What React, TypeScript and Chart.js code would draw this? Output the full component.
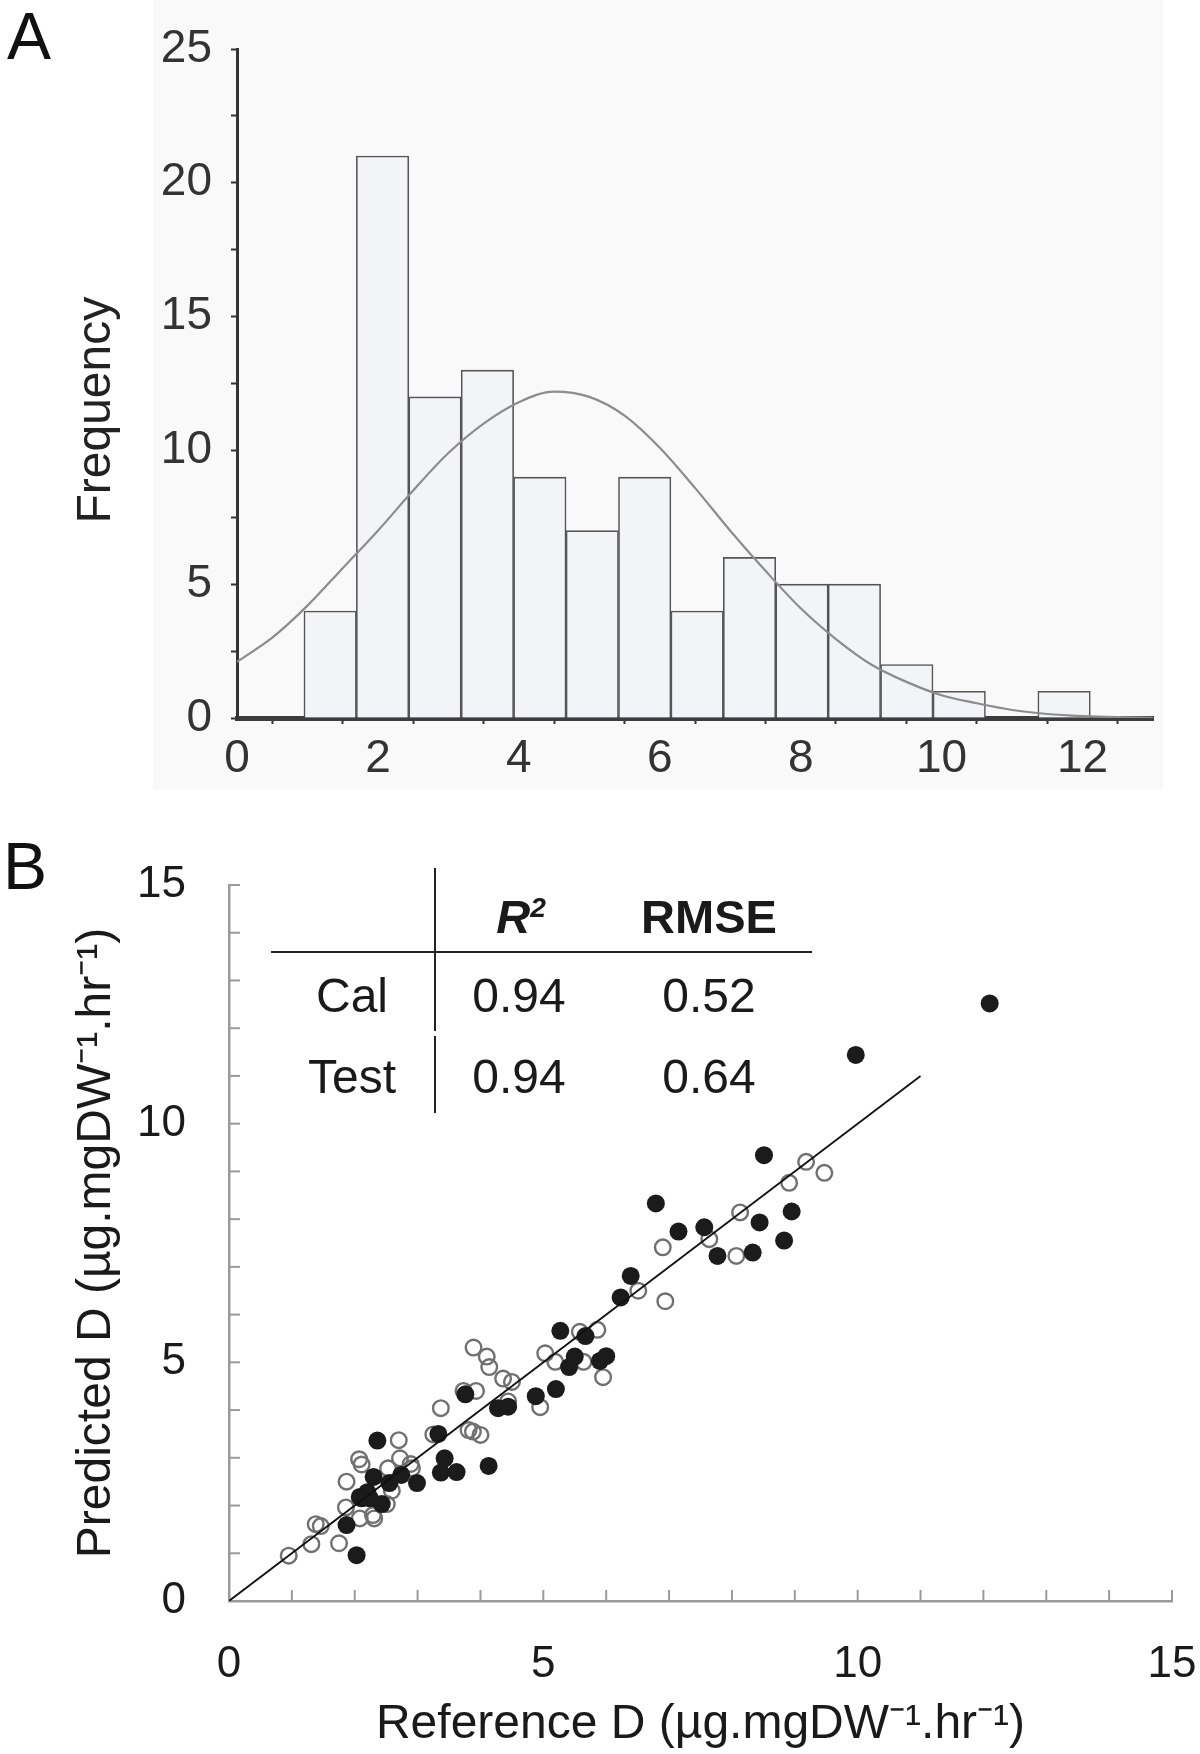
import React, { useEffect, useRef } from 'react';
import { Chart, registerables } from 'chart.js';

Chart.register(...registerables);

const FONT = '"Liberation Sans", Arial, Helvetica, sans-serif';

// ---------- Panel A: histogram ----------
const binEdges = [0.95, 1.694, 2.438, 3.182, 3.926, 4.67, 5.414, 6.158, 6.902, 7.646, 8.39, 9.134, 9.878, 10.622, 11.366, 12.11];
const binCounts = [4, 21, 12, 13, 9, 7, 9, 4, 6, 5, 5, 2, 1, 0, 1];
const curveX = [0, 0.5, 1, 1.5, 2, 2.5, 3, 3.5, 4, 4.5, 5, 5.5, 6, 6.5, 7, 7.5, 8, 8.5, 9, 9.5, 10, 10.5, 11, 11.5, 12, 12.5, 13];
const curveY = [2.1, 3.0, 4.2, 5.6, 7.0, 8.5, 9.9, 11.0, 11.8, 12.2, 12.0, 11.3, 10.1, 8.6, 7.0, 5.5, 4.1, 2.95, 2.0, 1.35, 0.85, 0.55, 0.3, 0.15, 0.07, 0.03, 0.01];

// ---------- Panel B: predicted vs reference ----------
const filledRef = [2.03, 1.87, 2.36, 2.11, 2.24, 2.30, 2.43, 2.55, 2.74, 2.99, 3.33, 3.43, 3.37, 3.62, 4.13, 3.76, 4.28, 4.44, 4.88, 5.20, 5.27, 5.67, 5.50, 5.41, 5.90, 6.00, 6.23, 6.39, 6.79, 7.15, 7.56, 7.77, 8.33, 8.44, 8.95, 8.83, 8.51, 9.97, 12.10, 2.08, 2.20];
const filledPred = [0.96, 1.59, 3.36, 2.15, 2.15, 2.60, 2.03, 2.47, 2.64, 2.47, 3.50, 2.99, 2.69, 2.70, 2.83, 4.33, 4.04, 4.07, 4.29, 4.44, 5.66, 5.55, 5.12, 4.90, 5.03, 5.13, 6.36, 6.81, 8.33, 7.74, 7.83, 7.23, 7.30, 7.93, 8.16, 7.55, 9.34, 11.44, 12.52, 2.18, 2.28];
const openRef = [0.95, 1.31, 1.38, 1.46, 1.75, 1.86, 1.87, 2.08, 2.07, 2.11, 2.29, 2.31, 2.51, 2.59, 2.53, 2.70, 2.72, 2.89, 2.91, 3.25, 3.37, 3.73, 3.81, 3.89, 3.93, 3.88, 4.00, 4.10, 4.14, 4.36, 4.50, 4.44, 4.95, 5.03, 5.19, 5.58, 5.64, 5.86, 5.95, 6.51, 6.94, 6.90, 7.64, 8.07, 8.13, 8.91, 9.18, 9.47];
const openPred = [0.95, 1.19, 1.61, 1.57, 1.21, 1.96, 2.50, 1.73, 2.97, 2.86, 1.80, 1.73, 2.03, 2.31, 2.78, 3.37, 2.99, 2.87, 2.78, 3.49, 4.04, 4.40, 3.58, 5.31, 4.40, 3.55, 3.48, 5.12, 4.90, 4.66, 4.59, 4.18, 4.06, 5.19, 5.01, 5.64, 5.01, 5.68, 4.69, 6.50, 6.28, 7.41, 7.58, 7.23, 8.14, 8.76, 9.20, 8.97];
const fitLineX = [0, 11];
const fitLineY = [0, 11];

// ---------- inset table ----------
const tableRows = ['Cal', 'Test'];
const r2Values = ['0.94', '0.94'];
const rmseValues = ['0.52', '0.64'];

const panelBg = {
  id: 'panelBg',
  beforeDraw(chart: any) {
    const ctx = chart.ctx;
    ctx.save();
    ctx.fillStyle = '#f9f9f9';
    ctx.fillRect(153, 0, 1010, 790);
    ctx.restore();
  },
};

const inwardTicks = {
  id: 'inwardTicks',
  beforeDatasetsDraw(chart: any) {
    const { ctx } = chart;
    const x = chart.scales.x;
    const y = chart.scales.y;
    ctx.save();
    ctx.strokeStyle = '#9a9a9a';
    ctx.lineWidth = 2;
    for (let v = 1; v <= 15; v++) {
      const px = x.getPixelForValue(v);
      ctx.beginPath();
      ctx.moveTo(px, y.bottom);
      ctx.lineTo(px, y.bottom - 11);
      ctx.stroke();
      const py = y.getPixelForValue(v);
      ctx.beginPath();
      ctx.moveTo(x.left, py);
      ctx.lineTo(x.left + 11, py);
      ctx.stroke();
    }
    ctx.restore();
  },
};

function abs(cx: number, cy: number, size: number, extra: any = {}): any {
  return {
    position: 'absolute',
    left: cx,
    top: cy,
    transform: 'translate(-50%, -50%)',
    fontSize: size,
    lineHeight: 1,
    whiteSpace: 'nowrap',
    color: '#1a1a1a',
    ...extra,
  };
}

export default function App() {
  const refA = useRef<HTMLCanvasElement>(null);
  const refB = useRef<HTMLCanvasElement>(null);

  useEffect(() => {
    const chartA = new Chart(refA.current as HTMLCanvasElement, {
      type: 'bar',
      data: {
        datasets: [
          {
            type: 'line',
            data: curveX.map((x, i) => ({ x, y: curveY[i] })),
            borderColor: '#8c8c8c',
            borderWidth: 2.2,
            pointRadius: 0,
            tension: 0.4,
            cubicInterpolationMode: 'monotone',
            fill: false,
            order: 0,
          } as any,
          {
            type: 'bar',
            data: binCounts.map((c, i) => ({ x: (binEdges[i] + binEdges[i + 1]) / 2, y: c })),
            backgroundColor: '#f3f4f8',
            borderColor: '#555555',
            borderWidth: 1.6,
            barPercentage: 1,
            categoryPercentage: 1,
            order: 1,
          } as any,
        ],
      },
      options: {
        animation: false,
        responsive: false,
        layout: { padding: { top: 49, right: 47, left: 0, bottom: 0 } },
        plugins: { legend: { display: false }, tooltip: { enabled: false } },
        scales: {
          x: {
            type: 'linear',
            min: 0,
            max: 13,
            offset: false,
            grid: { display: true, drawOnChartArea: false, drawTicks: true, tickLength: 6, tickWidth: 2, tickColor: '#333' },
            border: { display: true, color: '#3c3c3c', width: 5 },
            ticks: {
              stepSize: 1,
              autoSkip: false,
              maxRotation: 0,
              padding: 8,
              color: '#333',
              font: { family: FONT, size: 46 },
              callback: (v: any) => (Number(v) % 2 === 0 ? String(v) : ''),
            },
            afterFit: (s: any) => {
              s.height = 72;
            },
          } as any,
          y: {
            min: 0,
            max: 25,
            grid: { display: true, drawOnChartArea: false, drawTicks: true, tickLength: 6, tickWidth: 2, tickColor: '#333' },
            border: { display: true, color: '#333', width: 3 },
            ticks: {
              stepSize: 2.5,
              autoSkip: false,
              padding: 19,
              color: '#333',
              font: { family: FONT, size: 46 },
              callback: (v: any) => (Number(v) % 5 === 0 ? String(v) : ''),
            },
            title: {
              display: true,
              text: 'Frequency    ',
              color: '#222',
              font: { family: FONT, size: 48 },
              padding: { top: 68, bottom: 0 },
            },
            afterFit: (s: any) => {
              s.width = 237;
            },
          } as any,
        },
      },
      plugins: [panelBg],
    });

    const chartB = new Chart(refB.current as HTMLCanvasElement, {
      type: 'scatter',
      data: {
        datasets: [
          {
            data: fitLineX.map((x, i) => ({ x, y: fitLineY[i] })),
            showLine: true,
            borderColor: '#111',
            borderWidth: 1.8,
            pointRadius: 0,
            order: 0,
          } as any,
          {
            data: filledRef.map((x, i) => ({ x, y: filledPred[i] })),
            pointRadius: 9,
            backgroundColor: '#1b1b1b',
            borderColor: '#1b1b1b',
            borderWidth: 0,
            order: 1,
          } as any,
          {
            data: openRef.map((x, i) => ({ x, y: openPred[i] })),
            pointRadius: 7.8,
            backgroundColor: 'rgba(255,255,255,0)',
            borderColor: '#707070',
            borderWidth: 2.4,
            order: 2,
          } as any,
        ],
      },
      options: {
        animation: false,
        responsive: false,
        layout: { padding: { top: 85, right: 28, left: 0, bottom: 0 } },
        plugins: { legend: { display: false }, tooltip: { enabled: false } },
        scales: {
          x: {
            type: 'linear',
            min: 0,
            max: 15,
            grid: { display: false, drawTicks: true, tickLength: 35 },
            border: { display: true, color: '#9a9a9a', width: 2.5 },
            ticks: { stepSize: 5, padding: 2, color: '#1a1a1a', font: { family: FONT, size: 44 } },
            title: {
              display: true,
              text: 'Reference D (µg.mgDW⁻¹.hr⁻¹)',
              color: '#1a1a1a',
              font: { family: FONT, size: 48 },
              padding: { top: 0, bottom: 0 },
            },
            afterFit: (s: any) => {
              s.height = 153;
            },
          } as any,
          y: {
            min: 0,
            max: 15,
            grid: { display: false, drawTicks: false },
            border: { display: true, color: '#9a9a9a', width: 2.5 },
            ticks: { stepSize: 5, padding: 43, color: '#1a1a1a', font: { family: FONT, size: 44 } },
            title: {
              display: true,
              text: 'Predicted D (µg.mgDW⁻¹.hr⁻¹)',
              color: '#1a1a1a',
              font: { family: FONT, size: 48 },
              padding: { top: 68, bottom: 0 },
            },
            afterFit: (s: any) => {
              s.width = 229;
            },
          } as any,
        },
      },
      plugins: [inwardTicks],
    });

    return () => {
      chartA.destroy();
      chartB.destroy();
    };
  }, []);

  return (
    <div
      style={{
        position: 'absolute',
        left: 0,
        top: 0,
        width: 1200,
        height: 1754,
        background: '#fff',
        overflow: 'hidden',
        fontFamily: FONT,
      }}
    >
      <canvas ref={refA} width={1200} height={790} style={{ position: 'absolute', left: 0, top: 0, width: 1200, height: 790 }} />
      <canvas ref={refB} width={1200} height={954} style={{ position: 'absolute', left: 0, top: 800, width: 1200, height: 954 }} />

      <div style={abs(29, 36, 66, { color: '#111' })}>A</div>
      <div style={abs(25, 866, 66, { color: '#111' })}>B</div>

      {/* inset table */}
      <div style={{ position: 'absolute', left: 434, top: 868, width: 2, height: 163, background: '#222' }} />
      <div style={{ position: 'absolute', left: 434, top: 1036, width: 2, height: 77, background: '#222' }} />
      <div style={{ position: 'absolute', left: 271, top: 951, width: 541, height: 2, background: '#222' }} />
      <div style={abs(521, 916, 47, { fontWeight: 'bold', fontStyle: 'italic' })}>
        R<sup style={{ fontSize: '0.6em', verticalAlign: '0.55em' }}>2</sup>
      </div>
      <div style={abs(709, 916, 47, { fontWeight: 'bold' })}>RMSE</div>
      {tableRows.map((row, i) => (
        <React.Fragment key={row}>
          <div style={abs(352, 996 + i * 81, 48)}>{row}</div>
          <div style={abs(519, 996 + i * 81, 48)}>{r2Values[i]}</div>
          <div style={abs(709, 996 + i * 81, 48)}>{rmseValues[i]}</div>
        </React.Fragment>
      ))}
    </div>
  );
}
